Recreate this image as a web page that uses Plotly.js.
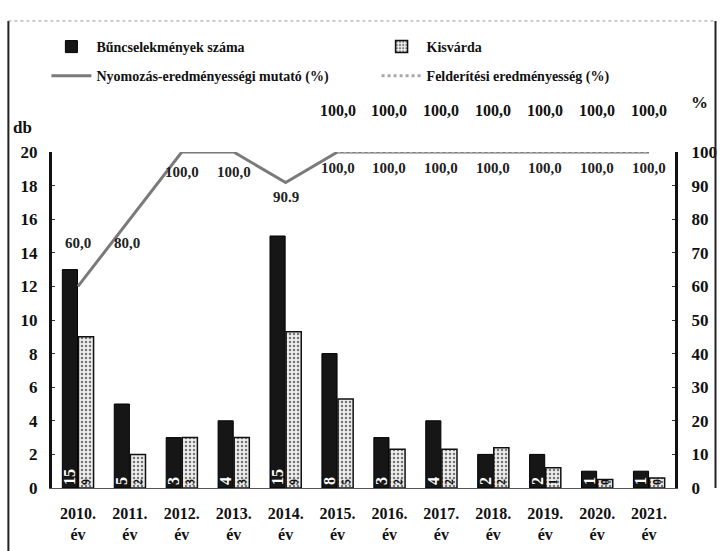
<!DOCTYPE html>
<html>
<head>
<meta charset="utf-8">
<script src="https://cdn.plot.ly/plotly-3.0.1.min.js"></script>
<style>
  body { margin: 0; background: #fff; }
  #chart { width: 720px; height: 551px; }
</style>
</head>
<body>
<div id="chart"></div>
<script>
// years on the x axis
var years = ['2010.<br>év', '2011.<br>év', '2012.<br>év', '2013.<br>év', '2014.<br>év', '2015.<br>év',
             '2016.<br>év', '2017.<br>év', '2018.<br>év', '2019.<br>év', '2020.<br>év', '2021.<br>év'];

// bars (db), heights, labels as printed in the bars
var crimeCount = [13, 5, 3, 4, 15, 8, 3, 4, 2, 2, 1, 1];
var crimeLabels = ['15', '5', '3', '4', '15', '8', '3', '4', '2', '2', '1', '1'];
var kisvarda = [9, 2, 3, 3, 9.3, 5.3, 2.3, 2.3, 2.4, 1.2, 0.5, 0.6];
var kisvardaLabels = ['9', '2', '3', '3', '9', '5', '2', '2', '2', '1', '0', '0'];

// lines (%)
var nyomozas = [60, 80, 100, 100, 90.9, 100, 100, 100, 100, 100, 100, 100];
var nyomozasLabels = ['60,0', '80,0', '100,0', '100,0', '90.9', '100,0', '100,0', '100,0', '100,0', '100,0', '100,0', '100,0'];
var felderites = [null, null, null, null, null, 100, 100, 100, 100, 100, 100, 100];
var felderitesLabels = ['', '', '', '', '', '100,0', '100,0', '100,0', '100,0', '100,0', '100,0', '100,0'];

var serif = 'Liberation Serif, Times New Roman, serif';

// where the value labels sit relative to their point (px)
var nyShiftY = [43, -24, -20, -20, -14, -16, -16, -16, -16, -16, -16, -16];
var nyShiftX = [0, -3, 0, 0, 0, 0, 0, 0, 0, 0, 0, 0];
var feShiftY = 42;

var data = [
    {
        x: years,
        y: crimeCount,
        type: 'bar',
        name: 'Bűncselekmények száma',
        legend: 'legend',
        marker: {color: '#161616', line: {color: '#000', width: 1}},
        text: crimeLabels,
        textposition: 'inside',
        insidetextanchor: 'start',
        textangle: -90,
        constraintext: 'none',
        textfont: {family: serif, size: 16, color: '#fff', weight: 'bold'},
        hoverinfo: 'skip'
    },
    {
        x: years,
        y: kisvarda,
        type: 'bar',
        name: 'Kisvárda',
        legend: 'legend2',
        marker: {
            color: '#e6e6e6',
            line: {color: '#111', width: 1.5},
            pattern: {shape: '.', fgcolor: '#777', bgcolor: '#eeeeee', size: 4, solidity: 0.3}
        },
        text: kisvardaLabels,
        textposition: 'inside',
        insidetextanchor: 'start',
        textangle: -90,
        constraintext: 'none',
        textfont: {family: serif, size: 12, color: '#111', weight: 'bold'},
        hoverinfo: 'skip'
    },
    {
        x: years,
        y: nyomozas,
        yaxis: 'y2',
        type: 'scatter',
        mode: 'lines',
        name: 'Nyomozás-eredményességi mutató (%)',
        legend: 'legend3',
        line: {color: '#7a7a7a', width: 3},
        cliponaxis: false,
        hoverinfo: 'skip'
    },
    {
        x: years,
        y: felderites,
        yaxis: 'y2',
        type: 'scatter',
        mode: 'lines',
        name: 'Felderítési eredményesség (%)',
        legend: 'legend4',
        line: {color: '#a8a8a8', width: 3, dash: 'dot'},
        cliponaxis: false,
        hoverinfo: 'skip'
    }
];

var labelFont = {family: serif, size: 16, color: '#111', weight: 'bold'};
var annotations = [];
for (var i = 0; i < years.length; i++) {
    annotations.push({
        x: years[i], y: nyomozas[i], xref: 'x', yref: 'y2',
        text: nyomozasLabels[i], showarrow: false,
        xshift: nyShiftX[i], yshift: nyShiftY[i],
        font: {family: serif, size: 15, color: '#222', weight: 'bold'}
    });
    if (felderites[i] !== null) {
        annotations.push({
            x: years[i], y: felderites[i], xref: 'x', yref: 'y2',
            text: felderitesLabels[i], showarrow: false,
            yshift: feShiftY,
            font: labelFont
        });
    }
}
annotations.push({text: 'db', xref: 'paper', yref: 'paper', x: -0.048, y: 1.074,
    xanchor: 'center', yanchor: 'middle', showarrow: false,
    font: {family: serif, size: 17, color: '#111', weight: 'bold'}});
annotations.push({text: '%', xref: 'paper', yref: 'paper', x: 1.04, y: 1.146,
    xanchor: 'center', yanchor: 'middle', showarrow: false,
    font: {family: serif, size: 17, color: '#111', weight: 'bold'}});

var legendFont = {family: serif, size: 14, color: '#111', weight: 'bold'};
function legendAt(x, y) {
    return {
        orientation: 'h',
        x: x, xanchor: 'left',
        y: y, yanchor: 'middle',
        font: legendFont,
        itemwidth: 40,
        bgcolor: 'rgba(0,0,0,0)'
    };
}

var layout = {
    width: 720,
    height: 551,
    margin: {l: 52, r: 45, t: 152, b: 63},
    paper_bgcolor: '#fff',
    plot_bgcolor: '#fff',
    font: {family: serif, color: '#111'},
    barmode: 'group',
    bargap: 0.38,
    bargroupgap: 0.06,
    showlegend: true,
    xaxis: {
        type: 'category',
        showgrid: false,
        showline: true,
        linecolor: '#555',
        linewidth: 1,
        ticks: '',
        tickfont: {family: serif, size: 16, color: '#111', weight: 'bold'},
        ticklabelstandoff: 11
    },
    yaxis: {
        range: [0, 20],
        dtick: 2,
        showgrid: false,
        zeroline: false,
        showline: true,
        linecolor: '#111',
        linewidth: 3,
        ticks: 'inside',
        ticklen: 3,
        tickcolor: '#333',
        tickfont: {family: serif, size: 17, color: '#111', weight: 'bold'},
        ticklabelstandoff: 8
    },
    yaxis2: {
        overlaying: 'y',
        side: 'right',
        range: [0, 100],
        dtick: 10,
        showgrid: false,
        zeroline: false,
        showline: true,
        linecolor: '#111',
        linewidth: 3,
        ticks: 'inside',
        ticklen: 3,
        tickcolor: '#333',
        tickfont: {family: serif, size: 17, color: '#111', weight: 'bold'},
        ticklabelstandoff: 10
    },
    legend: legendAt(-0.009, 1.3125),
    legend2: legendAt(0.521, 1.3125),
    legend3: legendAt(-0.009, 1.226),
    legend4: legendAt(0.521, 1.226),
    annotations: annotations,
    shapes: [
        // scan frame
        {type: 'line', xref: 'paper', yref: 'paper', x0: -0.07, x1: -0.07, y0: 1.39, y1: -0.19,
         line: {color: '#222', width: 2}},
        {type: 'line', xref: 'paper', yref: 'paper', x0: 1.065, x1: 1.065, y0: 1.39, y1: 0.0,
         line: {color: '#222', width: 2}},
        {type: 'line', xref: 'paper', yref: 'paper', x0: -0.07, x1: 1.065, y0: 1.39, y1: 1.39,
         line: {color: '#999', width: 1, dash: 'dot'}}
    ]
};

Plotly.newPlot('chart', data, layout, {displayModeBar: false, staticPlot: true});
</script>
</body>
</html>
